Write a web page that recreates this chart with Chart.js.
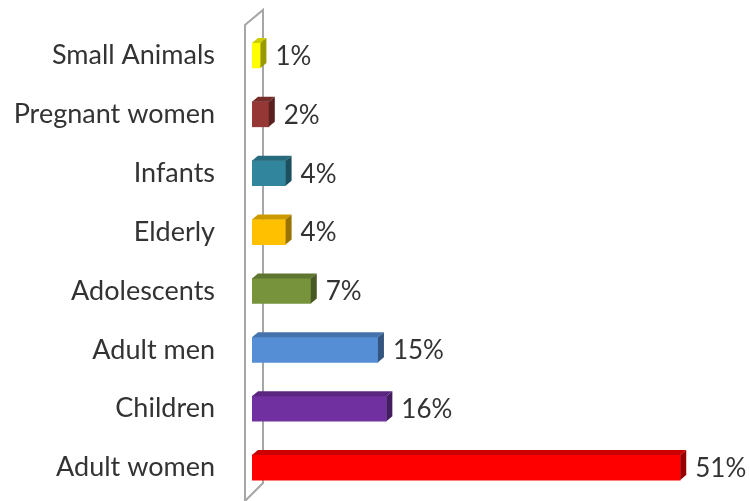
<!DOCTYPE html>
<html>
<head>
<meta charset="utf-8">
<script src="https://cdn.jsdelivr.net/npm/chart.js@4"></script>
<style>
  html, body { margin: 0; padding: 0; background: #fff; }
  #box { width: 750px; height: 501px; }
</style>
</head>
<body>
<div id="box"><canvas id="grafico"></canvas></div>
<script>
const categorias = ["Small Animals", "Pregnant women", "Infants", "Elderly", "Adolescents", "Adult men", "Children", "Adult women"];
const valores = [1, 2, 4, 4, 7, 15, 16, 51];
const colores = ["#FFFF00", "#953735", "#31859C", "#FFC000", "#77933C", "#558ED5", "#7030A0", "#FF0000"];

const fuente = "Lato, 'Open Sans', sans-serif";
const profX = 6, profY = 5;

function oscurecer(hex, f) {
  const n = parseInt(hex.slice(1), 16);
  const r = Math.round(((n >> 16) & 255) * f);
  const g = Math.round(((n >> 8) & 255) * f);
  const b = Math.round((n & 255) * f);
  return `rgb(${r},${g},${b})`;
}

// pared 3D de la izquierda
const pared = {
  id: "pared",
  beforeDatasetsDraw(chart) {
    const { ctx, chartArea } = chart;
    const l = chartArea.left - 7, r = chartArea.left + 11;
    ctx.save();
    ctx.strokeStyle = "#A6A6A6";
    ctx.lineWidth = 2;
    ctx.beginPath();
    ctx.moveTo(l, 502);
    ctx.lineTo(l, chartArea.top - 1);
    ctx.lineTo(r, chartArea.top - 16);
    ctx.lineTo(r, 483);
    ctx.lineTo(l, 501);
    ctx.stroke();
    ctx.restore();
  },
};

// caras superior y lateral + etiquetas
const barras3d = {
  id: "barras3d",
  afterDatasetsDraw(chart) {
    const ctx = chart.ctx;
    const meta = chart.getDatasetMeta(0);
    ctx.save();
    meta.data.forEach((bar, i) => {
      const x0 = bar.base, x1 = bar.x;
      const top = bar.y - bar.height / 2, bot = bar.y + bar.height / 2;
      // cara superior
      ctx.fillStyle = oscurecer(colores[i], 0.8);
      ctx.beginPath();
      ctx.moveTo(x0, top);
      ctx.lineTo(x0 + profX, top - profY);
      ctx.lineTo(x1 + profX, top - profY);
      ctx.lineTo(x1, top);
      ctx.closePath();
      ctx.fill();
      // cara lateral
      ctx.fillStyle = oscurecer(colores[i], 0.6);
      ctx.beginPath();
      ctx.moveTo(x1, top);
      ctx.lineTo(x1 + profX, top - profY);
      ctx.lineTo(x1 + profX, bot - profY);
      ctx.lineTo(x1, bot);
      ctx.closePath();
      ctx.fill();
      // etiqueta
      ctx.fillStyle = "#333333";
      ctx.font = "26px " + fuente;
      ctx.textAlign = "left";
      ctx.textBaseline = "middle";
      ctx.fillText(valores[i] + "%", x1 + profX + 9, bar.y + 1);
    });
    ctx.restore();
  },
};

const ctx = document.getElementById("grafico").getContext("2d");
new Chart(ctx, {
  type: "bar",
  data: {
    labels: categorias,
    datasets: [
      {
        data: valores,
        backgroundColor: colores,
        barThickness: 25,
        borderWidth: 0,
      },
    ],
  },
  options: {
    indexAxis: "y",
    responsive: true,
    maintainAspectRatio: false,
    animation: false,
    layout: { padding: { top: 26, bottom: 4, right: 11, left: 0 } },
    scales: {
      x: {
        display: false,
        min: 0,
        max: 58,
      },
      y: {
        border: { display: false },
        grid: { display: false, drawTicks: false },
        ticks: {
          color: "#333333",
          padding: 37,
          font: { family: fuente, size: 27 },
        },
        afterFit(scale) {
          scale.width = 252;
          scale.paddingTop = 0;
          scale.paddingBottom = 0;
        },
      },
    },
    plugins: {
      legend: { display: false },
      tooltip: { enabled: false },
    },
  },
  plugins: [pared, barras3d],
});
</script>
</body>
</html>
